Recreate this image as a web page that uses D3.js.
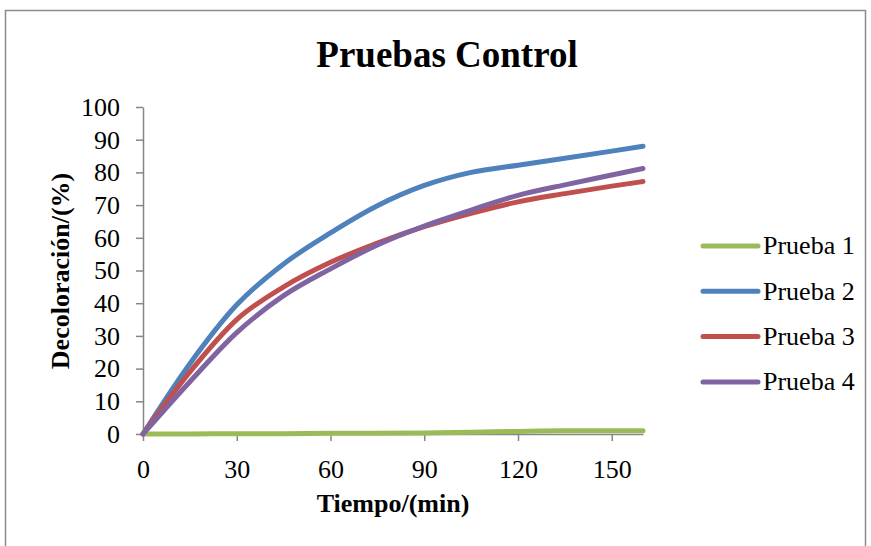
<!DOCTYPE html>
<html>
<head>
<meta charset="utf-8">
<script src="https://cdn.jsdelivr.net/npm/d3@7"></script>
<style>
  body { margin: 0; background: #fff; }
  text { font-family: "Liberation Serif", "Times New Roman", serif; fill: #000; }
</style>
</head>
<body>
<script>
// time points (min)
var tiempos = [0, 15, 30, 45, 60, 75, 90, 105, 120, 135, 150, 160];
var prueba1 = [0, 0, 0.1, 0.1, 0.2, 0.2, 0.3, 0.5, 0.8, 1, 1, 1];
var prueba2 = [0, 21.5, 39.5, 52, 61.5, 69.8, 76, 80, 82.2, 84.3, 86.5, 88];
var prueba3 = [0, 19, 35, 45, 52.5, 58.4, 63.4, 67.5, 71, 73.5, 75.8, 77.2];
var prueba4 = [0, 16, 31, 42.3, 50.5, 57.8, 63.6, 68.5, 73, 76.2, 79.2, 81.2];
var nombres = ["Prueba 1", "Prueba 2", "Prueba 3", "Prueba 4"];
var colores = ["#9BBB59", "#4F81BD", "#C0504D", "#8064A2"];
var xTicks = [0, 30, 60, 90, 120, 150];
var yTicks = [0, 10, 20, 30, 40, 50, 60, 70, 80, 90, 100];

var width = 871, height = 546;
var series = [prueba1, prueba2, prueba3, prueba4].map(function(vals, i) {
  return { name: nombres[i], color: colores[i],
    pts: vals.map(function(v, j) { return { t: tiempos[j], v: v }; }) };
});

var svg = d3.select('body').append('svg')
  .attr('width', width).attr('height', height);

// outer chart border
svg.append('rect')
  .attr('x', 5.5).attr('y', 10.5)
  .attr('width', 860).attr('height', 560)
  .attr('fill', '#fff').attr('stroke', '#8c8c8c').attr('stroke-width', 1.5);

var x = d3.scaleLinear().domain([0, 160]).range([143, 643]);
var y = d3.scaleLinear().domain([0, 100]).range([434, 107]);

var xAxis = svg.append('g')
  .attr('transform', 'translate(0,434)')
  .call(d3.axisBottom(x).tickValues(xTicks).tickSize(7).tickPadding(19).tickSizeOuter(0));
var yAxis = svg.append('g')
  .attr('transform', 'translate(143,0)')
  .call(d3.axisLeft(y).tickValues(yTicks).tickSize(7).tickPadding(16).tickSizeOuter(0));

[xAxis, yAxis].forEach(function(ax) {
  ax.selectAll('path, line').attr('stroke', '#868686').attr('stroke-width', 1.5);
  ax.selectAll('text')
    .style('font-family', '"Liberation Serif", "Times New Roman", serif')
    .style('font-size', '26px').attr('fill', '#000');
});

var line = d3.line()
  .x(function(d) { return x(d.t); })
  .y(function(d) { return y(d.v); })
  .curve(d3.curveMonotoneX);

svg.selectAll('.serie')
  .data(series)
  .enter().append('path')
  .attr('class', 'serie')
  .attr('d', function(d) { return line(d.pts); })
  .attr('fill', 'none')
  .attr('stroke', function(d) { return d.color; })
  .attr('stroke-width', 5)
  .attr('stroke-linecap', 'round')
  .attr('stroke-linejoin', 'round');

// title
svg.append('text')
  .attr('x', 447).attr('y', 67)
  .attr('text-anchor', 'middle')
  .style('font-size', '37px').style('font-weight', 'bold')
  .text('Pruebas Control');

// axis titles
svg.append('text')
  .attr('x', 393).attr('y', 512)
  .attr('text-anchor', 'middle')
  .style('font-size', '26px').style('font-weight', 'bold')
  .text('Tiempo/(min)');

svg.append('text')
  .attr('transform', 'translate(69,271) rotate(-90)')
  .attr('text-anchor', 'middle')
  .style('font-size', '26px').style('font-weight', 'bold')
  .text('Decoloración/(%)');

// legend
var legend = svg.selectAll('.leg')
  .data(series)
  .enter().append('g')
  .attr('class', 'leg')
  .attr('transform', function(d, i) { return 'translate(703,' + (246 + i * 45.3) + ')'; });

legend.append('line')
  .attr('x1', 0).attr('x2', 55)
  .attr('stroke', function(d) { return d.color; })
  .attr('stroke-width', 5)
  .attr('stroke-linecap', 'round');

legend.append('text')
  .attr('x', 60).attr('dy', '0.32em')
  .style('font-size', '26px')
  .text(function(d) { return d.name; });
</script>
</body>
</html>
